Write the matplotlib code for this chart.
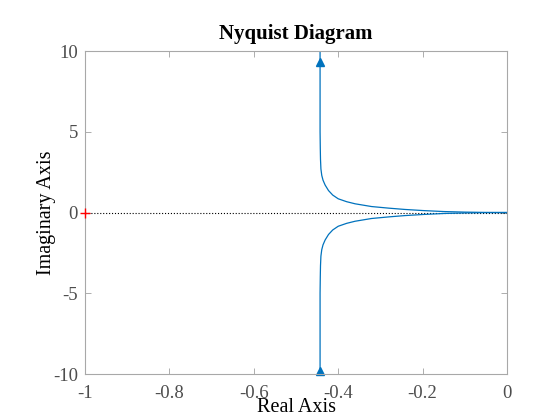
import numpy as np
import matplotlib.pyplot as plt

plt.rcParams['font.family'] = ['Liberation Serif', 'DejaVu Serif']

re_upper = [-0.443, -0.443, -0.443, -0.4425, -0.442, -0.441, -0.439, -0.436, -0.431,
            -0.423, -0.413, -0.400, -0.380, -0.360, -0.321, -0.280, -0.242, -0.198,
            -0.150, -0.100, -0.050, 0.0]
im_upper = [10.0, 7.0, 5.0, 4.0, 3.3, 2.7, 2.3, 2.0, 1.7,
            1.36, 1.08, 0.85, 0.67, 0.54, 0.37, 0.27, 0.19, 0.12,
            0.06, 0.025, 0.006, 0.0]
re_lower = re_upper[::-1]
im_lower = [-v for v in im_upper[::-1]]

arrow_re = [-0.443, -0.443]
arrow_im = [9.3, -9.8]

blue = '#0072BD'
grey = '#4d4d4d'

fig = plt.figure(figsize=(5.6, 4.2), dpi=100)
ax = fig.add_axes([0.1518, 0.1095, 0.7536, 0.769])

ax.plot([-1, 0], [0, 0], ':', color='k', lw=0.8)
ax.plot(re_upper, im_upper, color=blue, lw=0.9)
ax.plot(re_lower, im_lower, color=blue, lw=0.9)
ax.plot(arrow_re, arrow_im, '^', color=blue, ms=6, clip_on=False)
ax.plot([-1], [0], '+', color='red', ms=7, mew=1, clip_on=False, zorder=5)

ax.set_xlim(-1, 0)
ax.set_ylim(-10, 10)
ax.set_xticks([-1, -0.8, -0.6, -0.4, -0.2, 0])
ax.set_xticklabels(['-1', '-0.8', '-0.6', '-0.4', '-0.2', '0'])
ax.set_yticks([-10, -5, 0, 5, 10])
ax.set_yticklabels(['-10', '-5', '0', '5', '10'])
ax.tick_params(direction='in', top=True, right=True, length=4, width=0.6,
               color='#a0a0a0', labelcolor=grey, labelsize=13.5)
ax.tick_params(axis='x', pad=8)
ax.tick_params(axis='y', pad=5)
for s in ax.spines.values():
    s.set_color('#a8a8a8')
    s.set_linewidth(0.8)

ax.set_title('Nyquist Diagram', fontsize=15, fontweight='bold', pad=9)
ax.set_xlabel('Real Axis', fontsize=14.5)
ax.set_ylabel('Imaginary Axis', fontsize=14.5)
ax.xaxis.set_label_coords(0.5, -0.075)
ax.yaxis.set_label_coords(-0.069, 0.5)

fig.savefig('out.png', dpi=100)
